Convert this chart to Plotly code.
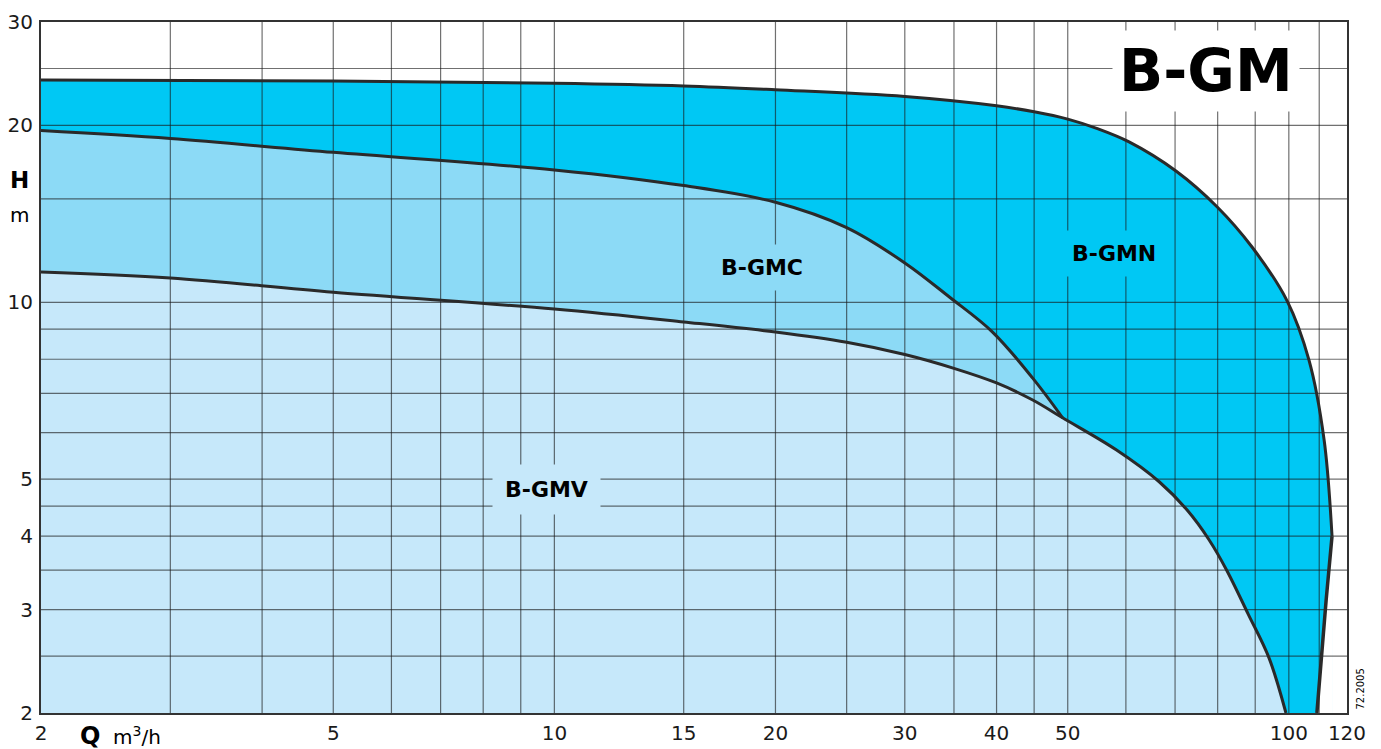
import plotly.graph_objects as go

# ---------------- data ----------------
# B-GMN envelope: rising/flat part up to the peak, then the straight tail to the bottom
gmn_q = [2, 5, 10, 15, 20, 30, 40, 45, 50, 55, 60.6, 70.2, 79.9, 89.1, 99.5, 106.5, 111.7, 114.5]
gmn_h = [23.9, 23.8, 23.6, 23.35, 23.0, 22.4, 21.6, 21.1, 20.5, 19.73, 18.75, 16.73, 14.53, 12.42, 10.05, 7.98, 5.83, 4.0]
gmn_tail_q = [114.5, 112.4, 109.2]
gmn_tail_h = [4.0, 3.11, 2.0]

gmc_q = [2, 3, 5, 10, 15, 20, 25, 30, 34.5, 39.5, 44.8, 49.2]
gmc_h = [19.6, 19.0, 18.0, 16.8, 15.8, 14.8, 13.4, 11.67, 10.21, 8.9, 7.43, 6.36]

gmv_q = [2, 3, 5, 10, 15, 20, 25, 30, 35, 40, 44.8, 49.2, 58.2, 66.6, 72.7, 77.9, 82.4, 88.0, 94.0, 99.1]
gmv_h = [11.26, 11.0, 10.4, 9.74, 9.26, 8.9, 8.55, 8.15, 7.72, 7.29, 6.82, 6.36, 5.61, 4.95, 4.43, 3.94, 3.49, 2.95, 2.48, 2.0]

x_ticks = [2, 5, 10, 15, 20, 30, 40, 50, 100, 120]
y_ticks = [2, 3, 4, 5, 10, 20, 30]
x_grid = [3, 4, 5, 6, 7, 8, 9, 10, 15, 20, 25, 30, 35, 40, 45, 50, 60, 70, 80, 90, 100, 110]
y_grid = [2.5, 3, 3.5, 4, 4.5, 5, 6, 7, 8, 9, 10, 15, 20, 25]

Q_MIN, Q_MAX = 2, 120
H_MIN, H_MAX = 2, 30

C_GMN = "#00C8F4"
C_GMC = "#8CDAF6"
C_GMV = "#C6E8FA"
C_LINE = "#2a2a2a"
FONT = "DejaVu Sans"

fig = go.Figure()


def add_region(qs, hs, color):
    # invisible baseline along the bottom of the chart
    fig.add_trace(go.Scatter(x=[Q_MIN, qs[-1]], y=[H_MIN, H_MIN], mode="lines",
                             line=dict(width=0), hoverinfo="skip", showlegend=False))
    fig.add_trace(go.Scatter(x=qs, y=hs, mode="lines", fill="tonexty", fillcolor=color,
                             line=dict(width=0, shape="spline"), hoverinfo="skip",
                             showlegend=False))


add_region(gmn_q, gmn_h, C_GMN)
# clear the area to the right of the straight tail of the B-GMN envelope
fig.add_trace(go.Scatter(x=gmn_tail_q + [gmn_tail_q[0]], y=gmn_tail_h + [H_MIN],
                         mode="lines", fill="toself", fillcolor="#ffffff",
                         line=dict(width=0), hoverinfo="skip", showlegend=False))
add_region(gmc_q, gmc_h, C_GMC)
add_region(gmv_q, gmv_h, C_GMV)

# grid drawn over the filled regions
gx, gy = [], []
for v in x_grid:
    gx += [v, v, None]
    gy += [H_MIN, H_MAX, None]
for v in y_grid:
    gx += [Q_MIN, Q_MAX, None]
    gy += [v, v, None]
fig.add_trace(go.Scatter(x=gx, y=gy, mode="lines", line=dict(color="rgba(25,25,25,0.62)", width=1.2),
                         hoverinfo="skip", showlegend=False))

for qs, hs in [(gmn_q, gmn_h), (gmc_q, gmc_h), (gmv_q, gmv_h)]:
    fig.add_trace(go.Scatter(x=qs, y=hs, mode="lines",
                             line=dict(color=C_LINE, width=3, shape="spline"),
                             hoverinfo="skip", showlegend=False))
fig.add_trace(go.Scatter(x=gmn_tail_q, y=gmn_tail_h, mode="lines",
                         line=dict(color=C_LINE, width=3.5), hoverinfo="skip", showlegend=False))

axis_common = dict(type="log", showgrid=False, zeroline=False, showline=True, mirror=True,
                   linecolor="#333333", linewidth=2, ticks="", automargin=False,
                   tickfont=dict(family=FONT, size=20, color="#1a1a1a"))

fig.update_xaxes(range=[0.30103, 2.0792], tickvals=x_ticks, ticktext=[str(v) for v in x_ticks],
                 ticklabelstandoff=1, **axis_common)
fig.update_yaxes(range=[0.30103, 1.4771], tickvals=y_ticks, ticktext=[str(v) for v in y_ticks],
                 ticklabelstandoff=2, **axis_common)

ann = []


def label(text, x, y, size, bg, pad, bold=True):
    ann.append(dict(text=f"<b>{text}</b>" if bold else text, x=x, y=y, xref="paper", yref="paper",
                    showarrow=False, font=dict(family=FONT, size=size, color="#000000"),
                    bgcolor=bg, borderpad=pad, xanchor="center", yanchor="middle"))


label("B-GM", 0.892, 0.929, 58, "#ffffff", 6)
label("B-GMN", 0.8216, 0.6657, 22, C_GMN, 10)
label("B-GMC", 0.552, 0.644, 22, C_GMC, 10)
label("B-GMV", 0.3867, 0.324, 22, C_GMV, 12)

ann.append(dict(text="<b>H</b>", x=-0.0161, y=0.771, xref="paper", yref="paper", showarrow=False,
                font=dict(family=FONT, size=23, color="#000"), xanchor="center", yanchor="middle"))
ann.append(dict(text="m", x=-0.0161, y=0.7207, xref="paper", yref="paper", showarrow=False,
                font=dict(family=FONT, size=20, color="#000"), xanchor="center", yanchor="middle"))
ann.append(dict(text="<b>Q</b>", x=0.0375, y=-0.034, xref="paper", yref="paper", showarrow=False,
                font=dict(family=FONT, size=24, color="#000"), xanchor="center", yanchor="middle"))
ann.append(dict(text="m<sup>3</sup>/h", x=0.0735, y=-0.034, xref="paper", yref="paper", showarrow=False,
                font=dict(family=FONT, size=20, color="#000"), xanchor="center", yanchor="middle"))
ann.append(dict(text="72.2005", x=1.0105, y=0.035, xref="paper", yref="paper", showarrow=False,
                textangle=-90, font=dict(family=FONT, size=10, color="#000"),
                xanchor="center", yanchor="middle"))

# the page places the figure 8px from the top-left corner, margins compensate for that
fig.update_layout(width=1381, height=749, margin=dict(l=33, r=42, t=14, b=44),
                  plot_bgcolor="#ffffff", paper_bgcolor="#ffffff", annotations=ann,
                  showlegend=False)

fig.write_html("out.html")
